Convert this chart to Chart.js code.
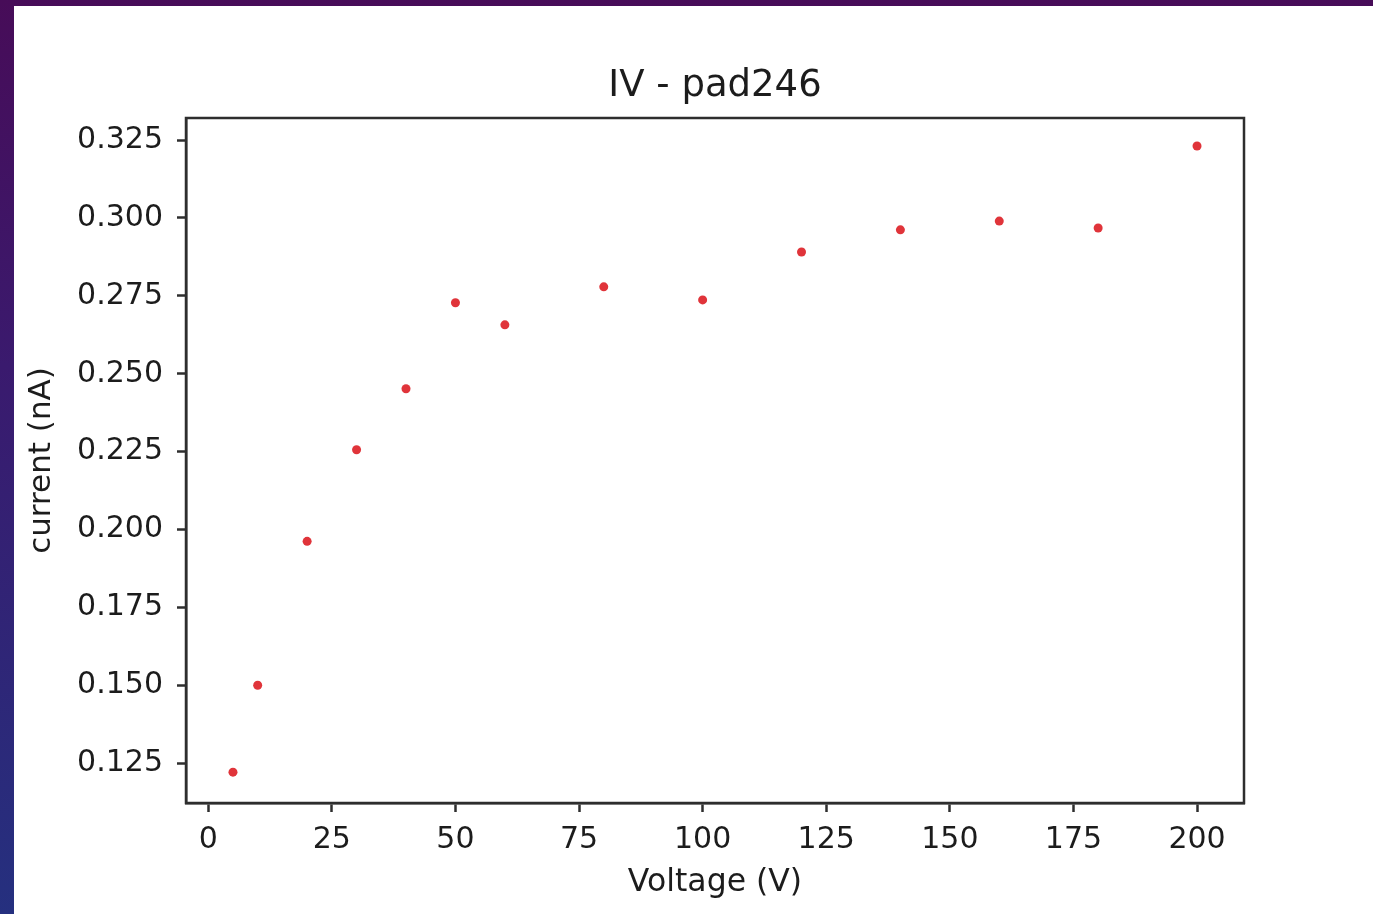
<!DOCTYPE html>
<html>
<head>
<meta charset="utf-8">
<script src="https://cdn.jsdelivr.net/npm/chart.js@4.4.0/dist/chart.umd.min.js"></script>
<style>
  html, body { margin: 0; padding: 0; }
  body {
    width: 1373px; height: 914px; overflow: hidden;
    background: linear-gradient(to bottom, #470c58 0%, #3a1a6e 40%, #25307f 100%);
  }
  #panel {
    position: absolute; left: 14px; top: 6px; width: 1359px; height: 908px;
    background: #ffffff;
  }
</style>
</head>
<body>
<div id="panel"><canvas id="ivChart" width="1359" height="908"></canvas></div>
<script>
// Datos
const voltage = [5, 10, 20, 30, 40, 50, 60, 80, 100, 120, 140, 160, 180, 200];
const current = [0.1221, 0.1500, 0.1962, 0.2256, 0.2452, 0.2728, 0.2657, 0.2779, 0.2737, 0.2891, 0.2962, 0.2990, 0.2968, 0.3231];
const xTicks = [0, 25, 50, 75, 100, 125, 150, 175, 200];
const yTicks = [0.125, 0.150, 0.175, 0.200, 0.225, 0.250, 0.275, 0.300, 0.325];
const chartTitle = 'IV - pad246';

const textColor = '#1c1c1c';
const axisColor = '#2e2e2e';

// Marco completo y título centrado sobre el área del gráfico (estilo matplotlib)
const boxPlugin = {
  id: 'box',
  afterDraw(chart) {
    const { ctx, chartArea: a } = chart;
    ctx.save();
    ctx.strokeStyle = axisColor;
    ctx.lineWidth = 2.5;
    ctx.strokeRect(a.left, a.top, a.right - a.left, a.bottom - a.top);
    ctx.fillStyle = textColor;
    ctx.font = '37px "DejaVu Sans"';
    ctx.textAlign = 'center';
    ctx.textBaseline = 'middle';
    ctx.fillText(chartTitle, (a.left + a.right) / 2, 80);
    ctx.restore();
  }
};

const points = voltage.map((v, i) => ({ x: v, y: current[i] }));

new Chart(document.getElementById('ivChart').getContext('2d'), {
  type: 'scatter',
  data: {
    datasets: [{
      label: 'IV',
      data: points,
      backgroundColor: '#e0343a',
      borderColor: '#e0343a',
      pointRadius: 4.5,
      pointBorderWidth: 0,
      pointHoverRadius: 4.5
    }]
  },
  options: {
    responsive: false,
    animation: false,
    layout: { padding: { left: 0, right: 129, top: 112, bottom: 0 } },
    plugins: {
      legend: { display: false },
      tooltip: { enabled: false },
      title: { display: false }
    },
    scales: {
      x: {
        type: 'linear',
        min: -4.5,
        max: 209.5,
        afterFit: s => { s.height = 111; },
        afterBuildTicks: s => { s.ticks = xTicks.map(v => ({ value: v })); },
        ticks: {
          color: textColor,
          font: { family: 'DejaVu Sans', size: 30 },
          padding: 10,
          maxRotation: 0,
          callback: v => String(v)
        },
        grid: { drawOnChartArea: false, drawTicks: true, tickLength: 9, tickWidth: 2.5, color: axisColor },
        border: { display: true, color: axisColor, width: 2.5 },
        title: {
          display: true,
          text: 'Voltage (V)',
          color: textColor,
          font: { family: 'DejaVu Sans', size: 31.5, lineHeight: 1.2 },
          padding: { top: 0, bottom: 12 }
        }
      },
      y: {
        type: 'linear',
        min: 0.1122,
        max: 0.3321,
        afterFit: s => { s.width = 172; },
        afterBuildTicks: s => { s.ticks = yTicks.map(v => ({ value: v })); },
        ticks: {
          color: textColor,
          font: { family: 'DejaVu Sans', size: 30 },
          padding: 14,
          callback: v => v.toFixed(3)
        },
        grid: { drawOnChartArea: false, drawTicks: true, tickLength: 9, tickWidth: 2.5, color: axisColor },
        border: { display: true, color: axisColor, width: 2.5 },
        title: {
          display: true,
          text: 'current (nA)',
          color: textColor,
          font: { family: 'DejaVu Sans', size: 31, lineHeight: 1.2 },
          padding: { top: 9, bottom: 0 }
        }
      }
    }
  },
  plugins: [boxPlugin]
});
</script>
</body>
</html>
